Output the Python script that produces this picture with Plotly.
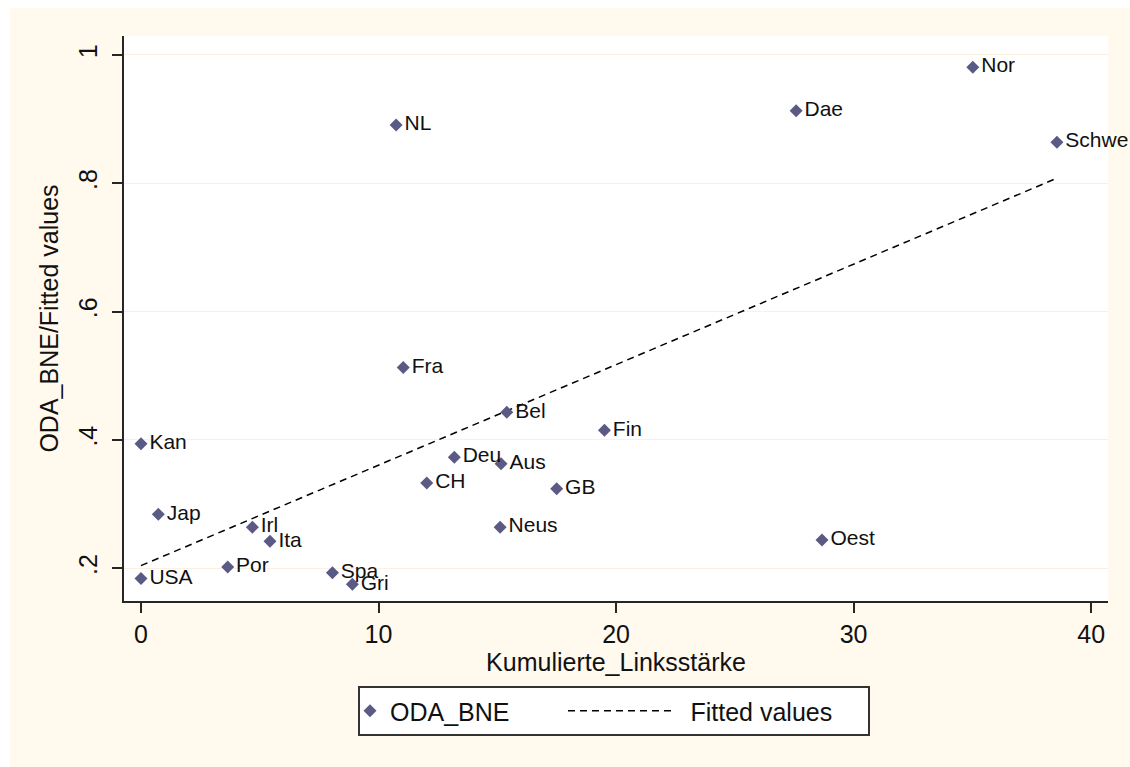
import plotly.graph_objects as go

# ---- data -------------------------------------------------------------
countries = ["USA", "Kan", "Jap", "Irl", "Ita", "Por", "Spa", "Gri", "NL", "Fra",
             "Bel", "Fin", "Deu", "Aus", "CH", "GB", "Neus", "Oest", "Dae", "Nor",
             "Schwe"]
links_staerke = [0.0, 0.0, 0.73, 4.69, 5.43, 3.65, 8.06, 8.90, 10.74, 11.04,
                 15.40, 19.51, 13.19, 15.16, 12.03, 17.50, 15.12, 28.67, 27.58, 35.02,
                 38.56]
oda_bne = [0.184, 0.394, 0.284, 0.264, 0.242, 0.202, 0.193, 0.175, 0.891, 0.513,
           0.443, 0.415, 0.373, 0.363, 0.333, 0.324, 0.264, 0.244, 0.913, 0.981,
           0.864]

# linear fit (endpoints of the fitted line)
fit_x = [0.0, 38.56]
fit_y = [0.204, 0.808]

y_tickvals = [0.2, 0.4, 0.6, 0.8, 1.0]
y_ticktext = [".2", ".4", ".6", ".8", "1"]
x_tickvals = [0, 10, 20, 30, 40]
x_ticktext = ["0", "10", "20", "30", "40"]

# ---- style ------------------------------------------------------------
W, H = 1130, 767
ML, MR, MT, MB = 124, 22, 36, 166
CREAM = "#FFF9EE"
GRID = "#FBF1DE"
MARKER = "#5A5A85"
AXIS = "#262626"
TEXT = "#111111"
FONT = "Liberation Sans, Arial, sans-serif"

# pixel -> paper-coordinate helpers for layout decorations
pw = W - ML - MR
ph = H - MT - MB
px = lambda p: (p - ML) / pw
py = lambda p: (H - MB - p) / ph

fig = go.Figure()

fig.add_trace(go.Scatter(
    x=fit_x, y=fit_y, mode="lines", name="\u2002Fitted values",
    legend="legend2",
    line=dict(color="#000000", width=1.5, dash="7px,5px"),
))

fig.add_trace(go.Scatter(
    x=links_staerke, y=oda_bne, mode="markers", name="ODA_BNE",
    legend="legend",
    marker=dict(symbol="diamond", size=10, color=MARKER, line=dict(width=0)),
))

fig.add_trace(go.Scatter(
    x=links_staerke, y=oda_bne, mode="text", showlegend=False,
    text=["\u2009\u2009" + c for c in countries],
    textposition="middle right",
    textfont=dict(family=FONT, size=21, color=TEXT),
    cliponaxis=False,
))

# white page strips on the left and top edge
fig.add_shape(type="rect", xref="paper", yref="paper",
              x0=px(0), x1=px(10), y0=py(H), y1=py(0),
              fillcolor="white", line=dict(width=0), layer="above")
fig.add_shape(type="rect", xref="paper", yref="paper",
              x0=px(0), x1=px(W), y0=py(8), y1=py(0),
              fillcolor="white", line=dict(width=0), layer="above")
# legend frame shared by both legend entries
fig.add_shape(type="rect", xref="paper", yref="paper",
              x0=px(359), x1=px(869), y0=py(735), y1=py(687),
              fillcolor="white", line=dict(color="#333333", width=2), layer="above")

legend_common = dict(
    orientation="h", yanchor="middle", y=py(711), xanchor="left",
    bgcolor="rgba(0,0,0,0)", borderwidth=0,
    font=dict(family=FONT, size=25, color=TEXT),
)

fig.update_layout(
    width=W, height=H,
    margin=dict(l=ML, r=MR, t=MT, b=MB),
    paper_bgcolor=CREAM, plot_bgcolor="white",
    font=dict(family=FONT, size=25, color=TEXT),
    showlegend=True,
    legend=dict(legend_common, x=px(350), itemwidth=30),
    legend2=dict(legend_common, x=px(563), itemwidth=105),
    xaxis=dict(
        range=[-0.715, 40.71], tickvals=x_tickvals, ticktext=x_ticktext,
        showgrid=False, zeroline=False,
        showline=True, linecolor=AXIS, linewidth=2,
        ticks="outside", ticklen=10, tickwidth=2, tickcolor=AXIS,
        tickfont=dict(family=FONT, size=25, color=TEXT),
        title=dict(text="Kumulierte_Linksstärke", standoff=0,
                   font=dict(family=FONT, size=25, color=TEXT)),
    ),
    yaxis=dict(
        range=[0.1489, 1.0296], tickvals=y_tickvals, ticktext=y_ticktext,
        showgrid=True, gridcolor=GRID, gridwidth=1, zeroline=False,
        showline=True, linecolor=AXIS, linewidth=2,
        ticks="outside", ticklen=10, tickwidth=2, tickcolor=AXIS,
        tickangle=-90, ticklabelstandoff=5,
        tickfont=dict(family=FONT, size=25, color=TEXT),
        title=dict(text="ODA_BNE/Fitted values", standoff=8,
                   font=dict(family=FONT, size=25, color=TEXT)),
    ),
)

fig.write_html("out.html")
